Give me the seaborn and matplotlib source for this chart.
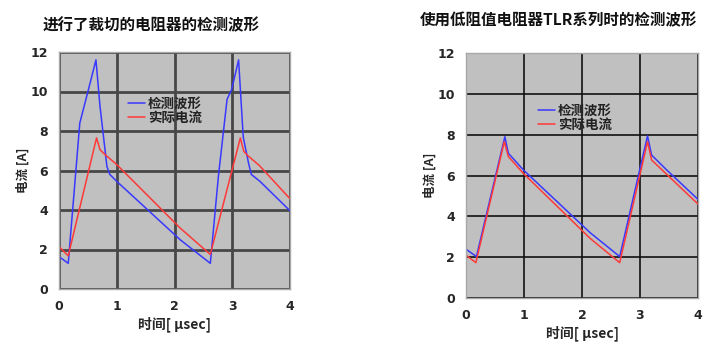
import matplotlib
matplotlib.use("Agg")
import matplotlib.pyplot as plt
import seaborn as sns
import pandas as pd

sns.set_theme(style="white")
plt.rcParams['font.family'] = ['Noto Sans CJK SC', 'DejaVu Sans']

# ---- data ----
left_title = "进行了裁切的电阻器的检测波形"
right_title = "使用低阻值电阻器TLR系列时的检测波形"
series_names = ["检测波形", "实际电流"]
x_label = "时间[ μsec]"
y_label = "电流 [A]"
x_ticks = [0, 1, 2, 3, 4]
y_ticks = [0, 2, 4, 6, 8, 10, 12]

left_det_t = [0, 0.16, 0.36, 0.51, 0.64, 0.71, 0.83, 0.88, 1.0, 2.1, 2.62, 2.76, 2.91, 2.99, 3.11, 3.19, 3.28, 3.33, 3.48, 4.0]
left_det_v = [1.64, 1.3, 8.4, 10.1, 11.6, 9.25, 6.2, 5.8, 5.45, 2.49, 1.3, 5.7, 9.6, 10.1, 11.6, 7.7, 6.4, 5.8, 5.45, 3.96]
left_act_t = [0, 0.16, 0.65, 0.71, 0.8, 1.0, 2.1, 2.62, 3.14, 3.2, 3.27, 3.47, 4.0]
left_act_v = [2.15, 1.68, 7.65, 7.05, 6.8, 6.3, 3.08, 1.75, 7.65, 6.97, 6.75, 6.25, 4.57]

right_det_t = [0, 0.18, 0.67, 0.73, 0.99, 2.14, 2.65, 3.13, 3.2, 3.45, 4.0]
right_det_v = [2.39, 2.03, 7.9, 7.09, 6.27, 3.2, 2.03, 7.94, 7.0, 6.3, 4.83]
right_act_t = [0, 0.17, 0.66, 0.73, 0.99, 2.14, 2.65, 3.13, 3.2, 4.0]
right_act_v = [2.1, 1.73, 7.66, 6.93, 6.1, 2.92, 1.73, 7.66, 6.76, 4.6]

colors = {"检测波形": "#3838ff", "实际电流": "#ff3838"}


def make_df(det_t, det_v, act_t, act_v):
    d1 = pd.DataFrame({"t": det_t, "v": det_v, "s": series_names[0]})
    d2 = pd.DataFrame({"t": act_t, "v": act_v, "s": series_names[1]})
    return pd.concat([d1, d2], ignore_index=True)


fig = plt.figure(figsize=(7.28, 3.53), dpi=100)
ax1 = fig.add_axes([59 / 728, 1 - 289 / 353, 231 / 728, 237 / 353])
ax2 = fig.add_axes([466 / 728, 1 - 298 / 353, 232 / 728, 245 / 353])

panels = [
    (ax1, make_df(left_det_t, left_det_v, left_act_t, left_act_v), left_title, "#474747", 2.0,
     (0.298, 0.81), 0.40, 1.114),
    (ax2, make_df(right_det_t, right_det_v, right_act_t, right_act_v), right_title, "#111111", 1.2,
     (0.31, 0.792), 0.397, 1.135),
]

for ax, df, title, gcol, glw, lpos, tx, ty in panels:
    ax.set_facecolor("#c0c0c0")
    sns.lineplot(data=df, x="t", y="v", hue="s", palette=colors, sort=False,
                 estimator=None, ax=ax, linewidth=1.1, legend=False)
    ax.set_xlim(0, 4)
    ax.set_ylim(0, 12)
    ax.set_xticks(x_ticks)
    ax.set_yticks(y_ticks)
    ax.set_xticklabels([str(v) for v in x_ticks], fontsize=9, fontweight="bold", family="DejaVu Sans")
    ax.set_yticklabels([str(v) for v in y_ticks], fontsize=9, fontweight="bold", family="DejaVu Sans")
    ax.tick_params(axis="both", length=0, pad=8)
    ax.grid(True, color=gcol, linewidth=glw)
    ax.set_axisbelow(True)
    for sp in ax.spines.values():
        sp.set_color("#a8a8a8")
        sp.set_linewidth(1.0)
    ax.set_xlabel(x_label, fontsize=10, fontweight="bold", labelpad=2)
    ax.set_ylabel(y_label, fontsize=9, fontweight="bold", labelpad=0.5)
    ax.text(tx, ty, title, transform=ax.transAxes, ha="center", va="center",
            fontsize=11.2, fontweight="bold", color="#111111")
    handles = [plt.Line2D([], [], color=colors[n], linewidth=1.1) for n in series_names]
    leg = ax.legend(handles, series_names, loc="upper left", bbox_to_anchor=lpos,
                    frameon=False, fontsize=9.7, handlelength=1.25, handletextpad=0.25,
                    labelspacing=0.0, borderpad=0, borderaxespad=0)
    for t in leg.get_texts():
        t.set_fontweight("bold")
        t.set_color("#222222")

fig.savefig("out.png", dpi=100)
